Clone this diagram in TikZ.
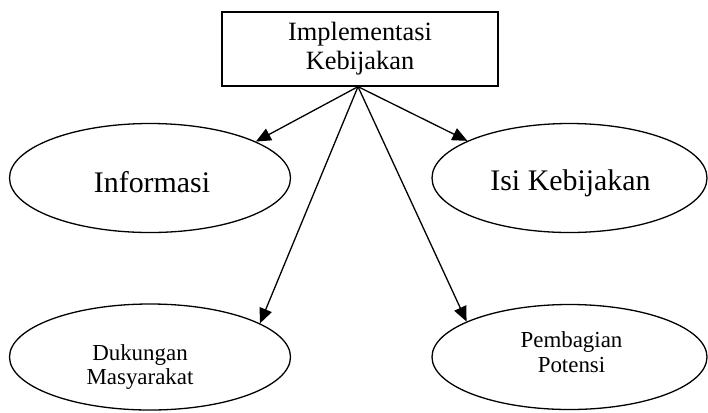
\documentclass[tikz,border=0pt]{standalone}
\usepackage{fontspec}
\setmainfont{Liberation Serif}
\usetikzlibrary{shapes.geometric,arrows.meta}
\tikzset{
  oval/.style={draw, ellipse, line width=1.3bp, inner sep=0pt},
  lbl/.style={align=center, text=black},
  arr/.style={-{Triangle[length=15bp,width=13bp]}, line width=1.3bp},
  topbox/.style={draw, rectangle, line width=1.3bp, minimum width=276bp, minimum height=74bp, align=center, inner sep=0pt}
}
\begin{document}
\begin{tikzpicture}[x=1bp,y=-1bp]
\useasboundingbox (0,0) rectangle (708,412);
\node[topbox, font=\fontsize{26.5}{29}\selectfont] (top) at (360,49) {Implementasi\\Kebijakan};
\node[oval, minimum width=281bp, minimum height=109bp,
  label={[lbl, font=\fontsize{30}{34}\selectfont, xshift=2bp, yshift=-4bp]center:Informasi}] (info) at (150,178) {};
\node[oval, minimum width=275bp, minimum height=109bp,
  label={[lbl, font=\fontsize{30}{34}\selectfont, xshift=1bp, yshift=-5bp]center:Isi Kebijakan}] (isi) at (569.5,178) {};
\node[oval, minimum width=281bp, minimum height=106bp,
  label={[lbl, font=\fontsize{23}{25}\selectfont, xshift=-10bp, yshift=-10bp]center:{Dukungan\\Masyarakat}}] (duk) at (150,357) {};
\node[oval, minimum width=275bp, minimum height=105bp,
  label={[lbl, font=\fontsize{23}{25}\selectfont, xshift=2bp, yshift=5bp]center:{Pembagian\\Potensi}}] (pot) at (569.5,357) {};
\draw[arr] ([xshift=-2bp]top.south) -- (info.19);
\draw[arr] ([xshift=-2bp]top.south) -- (isi.160);
\draw[arr] ([xshift=-2bp]top.south) -- (duk.17);
\draw[arr] ([xshift=-2bp]top.south) -- (pot.161);
\end{tikzpicture}
\end{document}
